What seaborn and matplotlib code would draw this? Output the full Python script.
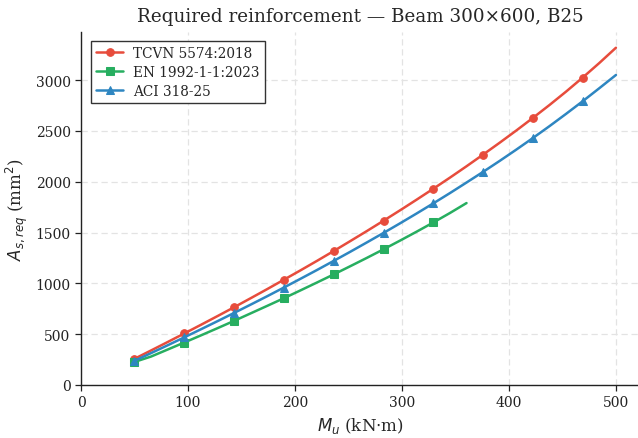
import numpy as np
import pandas as pd
import seaborn as sns
import matplotlib
matplotlib.use("Agg")
import matplotlib.pyplot as plt

# Bending moment Mu (kN·m): 30 evenly spaced design points from 50 to 500
mu_start, mu_end, n_pts = 50, 500, 30
moments = np.linspace(mu_start, mu_end, n_pts)

tcvn = [258, 340, 423, 507, 592, 678, 765, 854, 944, 1036,
        1128, 1222, 1318, 1416, 1515, 1616, 1719, 1824, 1931, 2040,
        2152, 2267, 2384, 2504, 2628, 2755, 2887, 3025, 3168, 3318]
en = [227, 280, 349, 418, 488, 559, 631, 705, 779, 854,
      931, 1009, 1088, 1169, 1251, 1335, 1421, 1509, 1599, 1692,
      1790]
aci = [238, 314, 391, 469, 548, 628, 709, 791, 874, 959,
       1045, 1132, 1221, 1311, 1403, 1496, 1591, 1688, 1787, 1888,
       1992, 2097, 2205, 2316, 2430, 2547, 2668, 2792, 2920, 3050]

series_names = ["TCVN 5574:2018", "EN 1992-1-1:2023", "ACI 318-25"]
series_vals = [tcvn, en, aci]
colors = ["#e74c3c", "#27ae60", "#2e86c1"]
markers = ["o", "s", "^"]

title = "Required reinforcement \u2014 Beam 300\u00d7600, B25"
xlabel = r"$M_u$ (kN$\cdot$m)"
ylabel = r"$A_{s,req}$ (mm$^2$)"

sns.set_theme(style="whitegrid")
plt.rcParams["font.family"] = ["DejaVu Serif"]
plt.rcParams["mathtext.fontset"] = "dejavusans"

fig = plt.figure(figsize=(6.38, 4.39), dpi=100)
ax = fig.add_axes([81/638, 53/439, 559/638, 353/439])

for name, vals, c, m in zip(series_names, series_vals, colors, markers):
    df = pd.DataFrame({"Mu": moments[:len(vals)], "As": vals})
    sns.lineplot(data=df, x="Mu", y="As", ax=ax, color=c, marker=m,
                 markevery=3, markersize=5.5, linewidth=1.8,
                 markeredgecolor=c, label=name)

ax.set_xlim(0, 522.5)
ax.set_ylim(0, 3473)
ax.set_xticks([0, 100, 200, 300, 400, 500])
ax.set_yticks([0, 500, 1000, 1500, 2000, 2500, 3000])
ax.grid(True, linestyle=(0, (5, 3)), color="#e3e3e3", linewidth=0.9)
ax.set_facecolor("white")
for s in ["top", "right"]:
    ax.spines[s].set_visible(False)
for s in ["left", "bottom"]:
    ax.spines[s].set_color("#222222")
    ax.spines[s].set_linewidth(1.0)
ax.tick_params(axis="both", which="both", direction="out", length=4,
               width=0.9, color="#222222", labelsize=10, labelcolor="#222222",
               left=True, bottom=True)
ax.set_title(title, fontsize=13.2, pad=8)
ax.set_xlabel(xlabel, fontsize=12)
ax.set_ylabel(ylabel, fontsize=12)

leg = ax.legend(loc="upper left", fontsize=9.8, frameon=True, fancybox=False,
                edgecolor="#333333", framealpha=1, borderpad=0.4,
                labelspacing=0.35, handlelength=2.0, handletextpad=0.7,
                bbox_to_anchor=(0.005, 0.995))
leg.get_frame().set_linewidth(1.0)

fig.savefig("out.png", dpi=100, facecolor="white")
